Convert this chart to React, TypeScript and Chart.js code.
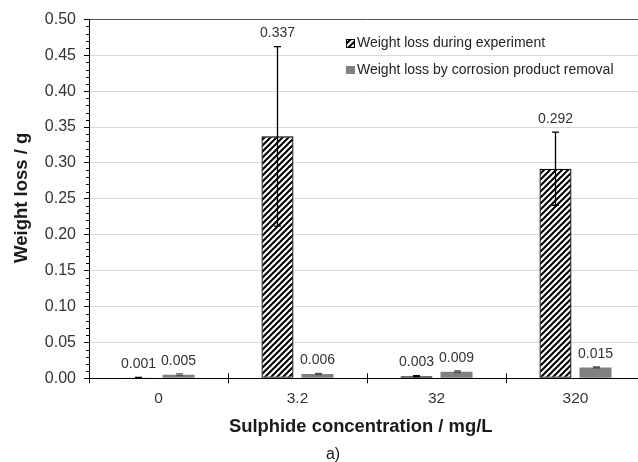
import { useEffect, useRef } from 'react';
import { Chart, registerables } from 'chart.js';

Chart.register(...registerables);

const categories = ['0', '3.2', '32', '320'];
const experimentLoss = [0.001, 0.337, 0.003, 0.292];
const experimentErr = [0.0003, 0.125, 0.0008, 0.051];
const removalLoss = [0.005, 0.006, 0.009, 0.015];
const removalErr = [0.0013, 0.0008, 0.0012, 0.0009];
const seriesNames = ['Weight loss during experiment', 'Weight loss by corrosion product removal'];
const xTitle = 'Sulphide concentration / mg/L';
const yTitle = 'Weight loss / g';
const caption = 'a)';

const FONT = '"Liberation Sans", Arial, sans-serif';

function makeHatch(): CanvasPattern | string {
  const c = document.createElement('canvas');
  c.width = 6;
  c.height = 6;
  const g = c.getContext('2d');
  if (!g) return '#888';
  g.fillStyle = '#fff';
  g.fillRect(0, 0, 6, 6);
  g.strokeStyle = '#000';
  g.lineWidth = 2;
  g.beginPath();
  g.moveTo(-1, 7); g.lineTo(7, -1);
  g.moveTo(-4, 4); g.lineTo(4, -4);
  g.moveTo(2, 10); g.lineTo(10, 2);
  g.stroke();
  const p = g.createPattern(c, 'repeat');
  return p || '#888';
}

export default function App() {
  const ref = useRef<HTMLCanvasElement | null>(null);

  useEffect(() => {
    const canvas = ref.current;
    if (!canvas) return;
    const hatch = makeHatch();
    const errs = [experimentErr, removalErr];
    const errColors = ['#000', '#555'];

    const overlay = {
      id: 'overlay',
      afterDatasetsDraw(chart: any) {
        const ctx = chart.ctx as CanvasRenderingContext2D;
        const ys = chart.scales.y;
        const area = chart.chartArea;
        ctx.save();
        // minor y ticks
        ctx.strokeStyle = '#000';
        ctx.lineWidth = 1;
        for (let k = 0; k <= 50; k++) {
          if (k % 5 === 0) continue;
          const py = Math.round(ys.getPixelForValue(k / 100)) + 0.5;
          ctx.beginPath();
          ctx.moveTo(area.left - 3, py);
          ctx.lineTo(area.left, py);
          ctx.stroke();
        }
        // x category boundary ticks
        const n = categories.length;
        for (let i = 0; i <= n; i++) {
          const px = Math.round(area.left + (i * area.width) / n) + 0.5;
          ctx.beginPath();
          ctx.moveTo(px, area.bottom - 5);
          ctx.lineTo(px, area.bottom + 5);
          ctx.stroke();
        }
        // error bars + labels
        const tops: number[][] = [[], []];
        for (let d = 0; d < 2; d++) {
          const meta = chart.getDatasetMeta(d);
          const vals = chart.data.datasets[d].data as number[];
          meta.data.forEach((el: any, i: number) => {
            const v = vals[i];
            const e = errs[d][i];
            const yTop = ys.getPixelForValue(v + e);
            const yBot = ys.getPixelForValue(v - e);
            const x = Math.round(el.x) + 0.5;
            ctx.strokeStyle = errColors[d];
            ctx.lineWidth = 1.3;
            ctx.beginPath();
            ctx.moveTo(x, yTop); ctx.lineTo(x, yBot);
            ctx.moveTo(x - 3.5, yTop); ctx.lineTo(x + 3.5, yTop);
            ctx.moveTo(x - 3.5, yBot); ctx.lineTo(x + 3.5, yBot);
            ctx.stroke();
            tops[d][i] = Math.min(yTop, el.y);
          });
        }
        ctx.fillStyle = '#333';
        ctx.font = `14px ${FONT}`;
        ctx.textAlign = 'center';
        ctx.textBaseline = 'middle';
        for (let d = 0; d < 2; d++) {
          const meta = chart.getDatasetMeta(d);
          const vals = chart.data.datasets[d].data as number[];
          meta.data.forEach((el: any, i: number) => {
            ctx.fillText(vals[i].toFixed(3), el.x, tops[d][i] - 13);
          });
        }
        // legend
        ctx.fillStyle = hatch as any;
        ctx.fillRect(346, 39, 9, 9);
        ctx.strokeStyle = '#000';
        ctx.lineWidth = 1;
        ctx.strokeRect(346.5, 39.5, 8, 8);
        ctx.fillStyle = '#808080';
        ctx.fillRect(346, 66, 9, 8);
        ctx.fillStyle = '#222';
        ctx.textAlign = 'left';
        ctx.font = `14px ${FONT}`;
        ctx.fillText(seriesNames[0], 357, 43.5);
        ctx.fillText(seriesNames[1], 357, 70);
        // titles
        ctx.fillStyle = '#1a1a1a';
        ctx.textAlign = 'center';
        ctx.font = `bold 18.4px ${FONT}`;
        ctx.fillText(xTitle, area.left + area.width * 0.4887, 427);
        ctx.font = `16px ${FONT}`;
        ctx.fillText(caption, 333, 455);
        ctx.save();
        ctx.translate(21.7, (area.top + area.bottom) / 2 - 1);
        ctx.rotate(-Math.PI / 2);
        ctx.font = `bold 18.5px ${FONT}`;
        ctx.fillText(yTitle, 0, 0);
        ctx.restore();
        ctx.restore();
      },
    };

    const chart = new Chart(canvas, {
      type: 'bar',
      data: {
        labels: categories,
        datasets: [
          {
            label: seriesNames[0],
            data: experimentLoss,
            backgroundColor: hatch as any,
            borderColor: '#000',
            borderWidth: 1.3,
            borderSkipped: false,
            categoryPercentage: 0.576,
            barPercentage: 0.8,
          },
          {
            label: seriesNames[1],
            data: removalLoss,
            backgroundColor: '#808080',
            borderWidth: 0,
            categoryPercentage: 0.576,
            barPercentage: 0.8,
          },
        ],
      },
      options: {
        responsive: false,
        animation: false,
        devicePixelRatio: 1,
        layout: { padding: { left: 0, right: 1, top: 19.3, bottom: 0 } },
        plugins: {
          legend: { display: false },
          tooltip: { enabled: false },
        },
        scales: {
          x: {
            type: 'category',
            offset: true,
            grid: { display: false, drawTicks: false },
            border: { display: true, color: '#000', width: 1 },
            ticks: { color: '#333', font: { size: 15.5, family: FONT }, padding: 11, maxRotation: 0 },
            afterFit: (s: any) => { s.height = 83.7; },
          },
          y: {
            min: 0,
            max: 0.5,
            grid: {
              color: (c: any) => {
                const v = c.tick ? c.tick.value : 0;
                if (Math.abs(v) < 1e-9) return 'rgba(0,0,0,0)';
                if (Math.abs(v - 0.5) < 1e-9) return '#595959';
                return '#d9d9d9';
              },
              tickColor: '#000',
              tickLength: 5,
              lineWidth: 1,
            },
            border: { display: true, color: '#000', width: 1 },
            ticks: {
              stepSize: 0.05,
              color: '#333',
              font: { size: 16, family: FONT },
              padding: 8,
              callback: (v: any) => Number(v).toFixed(2),
            },
            afterFit: (s: any) => { s.width = 89; },
          },
        },
      },
      plugins: [overlay],
    } as any);

    return () => chart.destroy();
  }, []);

  return (
    <div style={{ position: 'fixed', left: 0, top: 0, width: 638, height: 462, overflow: 'hidden', background: '#fff' }}>
      <canvas ref={ref} width={646} height={462} style={{ display: 'block', width: 646, height: 462 }} />
    </div>
  );
}
